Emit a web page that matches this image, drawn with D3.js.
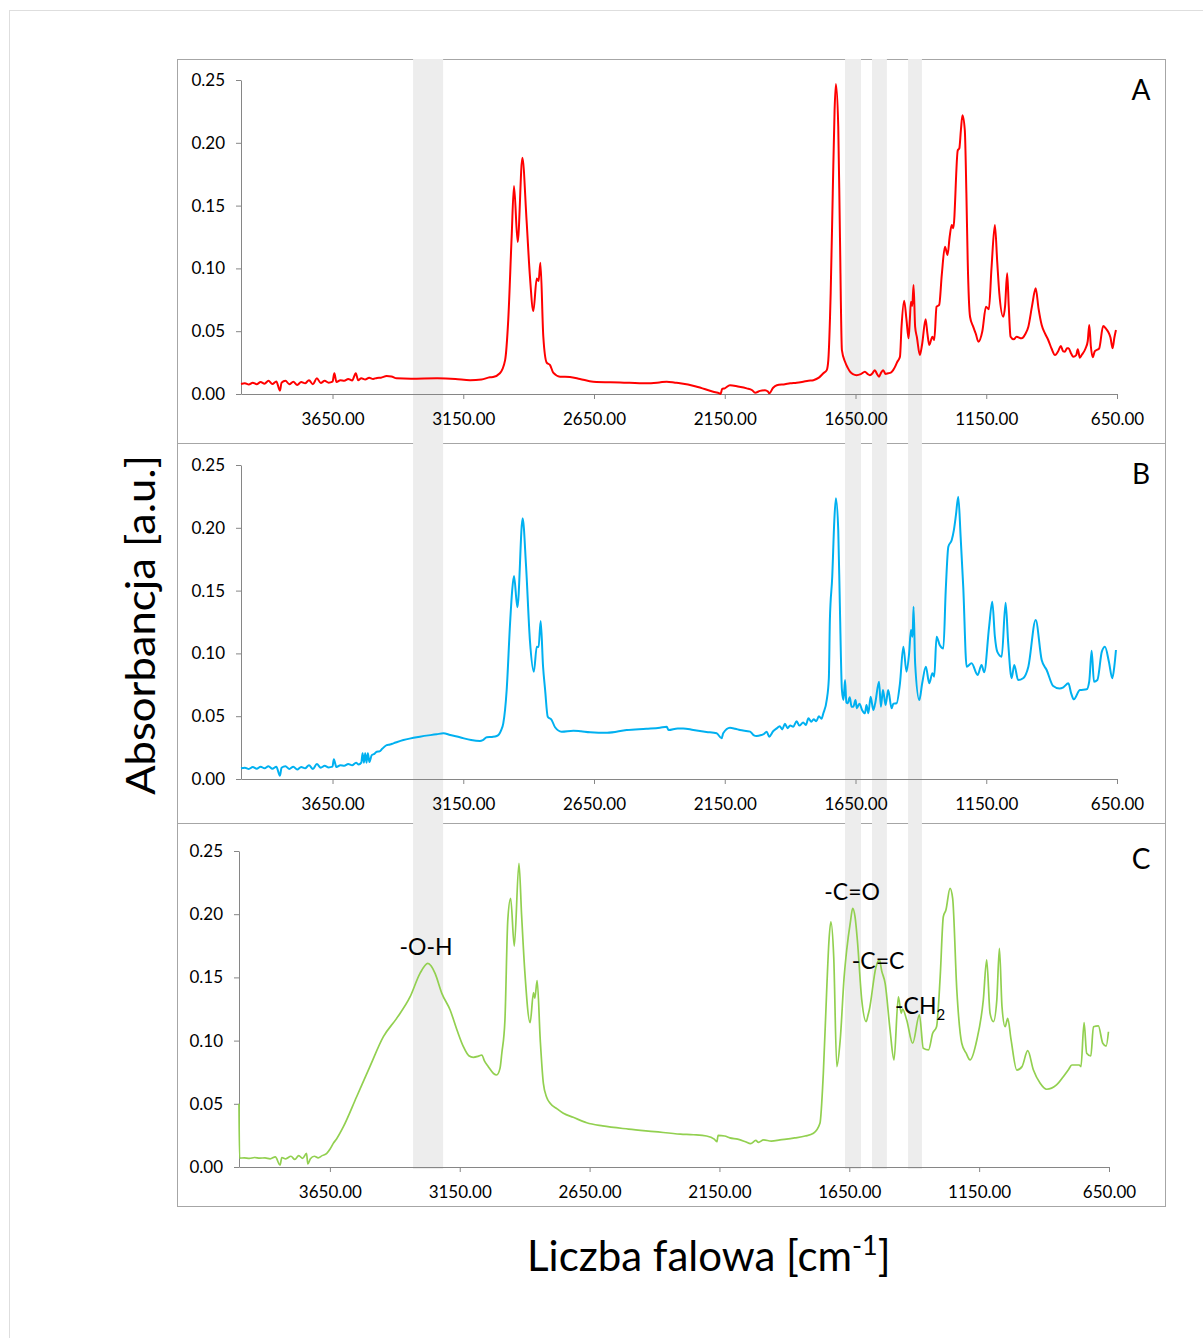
<!DOCTYPE html>
<html>
<head>
  <meta charset="utf-8">
  <title>Widma FTIR</title>
  <script src="https://d3js.org/d3.v7.min.js"></script>
  <style>
    body { margin: 0; background: #fff; }
    svg text { font-family: Lato, "Open Sans", sans-serif; fill: #000; }
    .axis path, .axis line { stroke: #868686; }
    .axis text { font-size: 17px; fill: #000; }
  </style>
</head>
<body>
<div id="chart"></div>
<script>

// wavenumber [cm-1], absorbance [a.u.]
var spectrumA = [
  [4000,0.008],[3985,0.0085],[3970,0.0075],[3955,0.009],[3940,0.0078],[3925,0.0095],[3910,0.0082],[3895,0.0105],
  [3880,0.008],[3865,0.010],[3851,0.0026],[3845,0.009],[3830,0.0105],[3815,0.0078],[3800,0.0098],[3785,0.0072],
  [3770,0.0095],[3755,0.0085],[3740,0.011],[3725,0.0078],[3710,0.0125],[3695,0.0088],[3680,0.0105],[3665,0.009],
  [3650,0.0098],[3643,0.0165],[3635,0.0095],[3620,0.011],[3605,0.0105],[3590,0.012],[3575,0.0108],[3561,0.0165],
  [3552,0.011],[3540,0.0125],[3525,0.0115],[3510,0.013],[3495,0.012],[3480,0.0128],[3465,0.013],[3443,0.0143],
  [3425,0.014],[3405,0.0125],[3350,0.0122],[3250,0.0125],[3180,0.012],[3124,0.011],[3080,0.0115],[3048,0.0133],
  [3036,0.0135],[3010,0.0165],[2990,0.027],[2978,0.059],[2965,0.125],[2956,0.1656],[2942,0.121],[2924,0.188],
  [2908,0.1385],[2895,0.0934],[2882,0.066],[2869,0.092],[2862,0.09],[2855,0.1045],[2844,0.046],[2831,0.025],
  [2818,0.023],[2806,0.017],[2780,0.0138],[2742,0.0135],[2704,0.012],[2653,0.0098],[2550,0.0092],[2449,0.0085],
  [2400,0.0092],[2372,0.0098],[2340,0.009],[2321,0.0085],[2260,0.006],[2194,0.0018],[2170,0.0005],[2166,0.0],
  [2160,0.004],[2150,0.0045],[2130,0.007],[2100,0.006],[2066,0.0045],[2045,0.003],[2034,0.001],[2015,0.0025],
  [1996,0.003],[1985,0.002],[1980,0.0005],[1965,0.005],[1951,0.007],[1920,0.0078],[1900,0.0085],[1875,0.009],
  [1850,0.0098],[1830,0.0105],[1811,0.011],[1790,0.013],[1773,0.0165],[1760,0.019],[1754,0.027],[1745,0.080],
  [1737,0.16],[1730,0.226],[1725,0.2468],[1716,0.213],[1710,0.133],[1702,0.035],[1690,0.0257],[1680,0.021],
  [1671,0.0178],[1660,0.0158],[1646,0.015],[1630,0.0158],[1614,0.0178],[1604,0.016],[1595,0.015],[1585,0.0165],
  [1576,0.019],[1568,0.016],[1560,0.0138],[1552,0.017],[1544,0.019],[1535,0.016],[1525,0.0165],[1515,0.017],
  [1506,0.019],[1498,0.022],[1490,0.0257],[1480,0.0297],[1474,0.0536],[1464,0.0743],[1455,0.059],[1447,0.0443],
  [1442,0.06],[1438,0.0735],[1433,0.07],[1428,0.0868],[1422,0.0536],[1415,0.045],[1404,0.031],[1395,0.04],
  [1382,0.0595],[1375,0.048],[1368,0.039],[1356,0.0456],[1349,0.043],[1340,0.0695],[1330,0.0709],[1320,0.095],
  [1308,0.1173],[1298,0.1107],[1290,0.125],[1282,0.1346],[1276,0.132],[1259,0.194],[1253,0.1956],[1247,0.21],
  [1241,0.222],[1232,0.21],[1226,0.16],[1221,0.1067],[1212,0.0615],[1200,0.0536],[1190,0.048],[1180,0.0416],
  [1165,0.05],[1151,0.0695],[1140,0.0674],[1130,0.1],[1117,0.1346],[1108,0.105],[1100,0.080],[1085,0.0615],
  [1078,0.07],[1070,0.0961],[1064,0.07],[1057,0.0456],[1045,0.0435],[1034,0.0456],[1015,0.0443],[1000,0.048],
  [989,0.0536],[975,0.07],[961,0.0841],[950,0.068],[938,0.0549],[925,0.048],[913,0.043],[900,0.036],
  [887,0.031],[875,0.034],[865,0.0382],[856,0.034],[849,0.0337],[841,0.0364],[835,0.0364],[825,0.032],
  [817,0.0297],[806,0.031],[800,0.0356],[792,0.0289],[785,0.031],[770,0.0364],[762,0.042],[756,0.0549],
  [750,0.038],[743,0.0292],[735,0.034],[728,0.035],[718,0.0364],[703,0.0541],[692,0.052],[684,0.0496],
  [675,0.045],[667,0.0364],[660,0.045],[654,0.051]
];

var spectrumB = [
  [4000,0.0085],[3985,0.009],[3970,0.008],[3955,0.0095],[3940,0.0082],[3925,0.0098],[3910,0.0085],[3895,0.0102],
  [3880,0.0082],[3865,0.0098],[3851,0.0026],[3845,0.009],[3830,0.0102],[3815,0.008],[3800,0.0098],[3785,0.0075],
  [3770,0.0095],[3755,0.0085],[3740,0.011],[3725,0.008],[3710,0.012],[3695,0.009],[3680,0.0105],[3665,0.0092],
  [3650,0.0098],[3645,0.0157],[3635,0.0095],[3620,0.011],[3605,0.0105],[3590,0.012],[3575,0.011],[3560,0.013],
  [3550,0.0115],[3540,0.013],[3535,0.0205],[3530,0.013],[3525,0.0205],[3520,0.013],[3515,0.0205],[3509,0.0135],
  [3500,0.019],[3490,0.02],[3481,0.0217],[3470,0.022],[3460,0.024],[3443,0.027],[3430,0.0275],[3417,0.0284],
  [3379,0.031],[3316,0.0337],[3252,0.0356],[3226,0.0364],[3200,0.035],[3163,0.0332],[3120,0.031],[3086,0.0303],
  [3075,0.031],[3060,0.0332],[3040,0.0335],[3022,0.0342],[3005,0.039],[2997,0.0443],[2984,0.0709],[2971,0.124],
  [2963,0.15],[2956,0.1616],[2943,0.1367],[2923,0.2076],[2910,0.17],[2895,0.11],[2880,0.0854],[2869,0.1053],
  [2862,0.105],[2854,0.1258],[2845,0.09],[2837,0.0709],[2827,0.0496],[2812,0.047],[2799,0.0412],[2774,0.0377],
  [2729,0.0385],[2700,0.038],[2665,0.0372],[2600,0.0368],[2525,0.039],[2450,0.04],[2398,0.0408],[2372,0.0416],
  [2365,0.039],[2330,0.0403],[2309,0.0403],[2270,0.039],[2220,0.0375],[2181,0.0364],[2162,0.0324],[2156,0.0364],
  [2130,0.0408],[2110,0.04],[2092,0.039],[2053,0.0377],[2040,0.035],[2028,0.0342],[2010,0.035],[2000,0.0358],
  [1990,0.0377],[1980,0.0337],[1965,0.038],[1951,0.0403],[1940,0.042],[1930,0.0395],[1920,0.044],[1910,0.0405],
  [1900,0.0425],[1888,0.0416],[1875,0.046],[1865,0.0425],[1850,0.045],[1840,0.043],[1830,0.0483],[1819,0.0456],
  [1810,0.0475],[1800,0.046],[1790,0.05],[1780,0.048],[1773,0.0523],[1760,0.0629],[1752,0.08],[1748,0.1266],
  [1739,0.161],[1731,0.206],[1725,0.2235],[1716,0.198],[1710,0.1399],[1702,0.0709],[1696,0.0629],[1690,0.0788],
  [1685,0.061],[1680,0.0603],[1672,0.065],[1665,0.0576],[1658,0.0576],[1650,0.0629],[1645,0.0563],[1635,0.06],
  [1625,0.055],[1614,0.0523],[1608,0.0589],[1601,0.0523],[1592,0.0655],[1582,0.0549],[1575,0.06],[1560,0.0775],
  [1553,0.0576],[1545,0.0709],[1535,0.0589],[1525,0.0709],[1512,0.0563],[1505,0.06],[1493,0.0603],[1480,0.0762],
  [1467,0.1053],[1455,0.0854],[1445,0.1],[1438,0.1186],[1432,0.1133],[1428,0.1372],[1422,0.0921],[1406,0.0629],
  [1395,0.0762],[1381,0.0894],[1368,0.0762],[1356,0.0842],[1349,0.0815],[1340,0.1133],[1328,0.1067],[1314,0.104],
  [1305,0.15],[1295,0.185],[1282,0.1903],[1274,0.198],[1266,0.21],[1257,0.2248],[1248,0.193],[1238,0.153],
  [1225,0.0894],[1206,0.0921],[1183,0.0828],[1168,0.0908],[1158,0.085],[1139,0.1213],[1127,0.1412],[1117,0.1133],
  [1108,0.1014],[1091,0.0974],[1076,0.1403],[1066,0.108],[1053,0.0802],[1043,0.0908],[1028,0.0788],[1009,0.0802],
  [989,0.0894],[961,0.1266],[938,0.0947],[919,0.0868],[894,0.074],[870,0.072],[855,0.073],[836,0.0762],
  [825,0.068],[815,0.0634],[792,0.0709],[766,0.0714],[756,0.078],[747,0.1022],[738,0.0775],[725,0.0788],
  [708,0.1014],[696,0.1053],[681,0.0934],[668,0.0802],[660,0.09],[654,0.1027]
];

var spectrumC = [
  [4000,0.050],[3998,0.007],[3980,0.0072],[3960,0.0068],[3940,0.0075],[3920,0.007],[3900,0.0072],[3880,0.0065],
  [3860,0.008],[3842,0.0016],[3835,0.0075],[3820,0.0065],[3800,0.0085],[3785,0.006],[3770,0.009],[3755,0.0068],
  [3740,0.0108],[3735,0.0024],[3725,0.0065],[3710,0.0085],[3695,0.0072],[3680,0.009],[3662,0.0108],[3650,0.014],
  [3637,0.0187],[3625,0.022],[3598,0.0319],[3547,0.0556],[3496,0.0794],[3444,0.1031],[3393,0.1176],[3341,0.1347],
  [3303,0.1532],[3273,0.1611],[3260,0.159],[3245,0.1532],[3219,0.1374],[3187,0.1242],[3160,0.108],[3136,0.0952],
  [3115,0.088],[3098,0.0868],[3080,0.0875],[3065,0.0886],[3055,0.084],[3040,0.0794],[3020,0.074],[3008,0.0728],
  [2995,0.078],[2988,0.09],[2976,0.1163],[2965,0.1954],[2954,0.2126],[2940,0.1748],[2922,0.2403],[2912,0.2],
  [2899,0.1532],[2879,0.1142],[2866,0.1379],[2861,0.1335],[2852,0.1474],[2840,0.1005],[2828,0.0662],[2815,0.055],
  [2802,0.0504],[2775,0.046],[2751,0.0425],[2713,0.0393],[2661,0.035],[2600,0.0325],[2500,0.03],[2400,0.028],
  [2300,0.026],[2250,0.0255],[2200,0.0245],[2170,0.022],[2160,0.02],[2155,0.025],[2130,0.0245],[2110,0.023],
  [2080,0.022],[2050,0.02],[2030,0.0185],[2010,0.021],[2000,0.0195],[1980,0.0215],[1950,0.0205],[1917,0.0214],
  [1860,0.023],[1820,0.0245],[1788,0.0267],[1763,0.0346],[1750,0.0741],[1737,0.14],[1728,0.18],[1721,0.194],
  [1710,0.1664],[1698,0.0794],[1685,0.1005],[1670,0.15],[1660,0.1717],[1645,0.195],[1637,0.2047],[1628,0.198],
  [1619,0.1796],[1602,0.1321],[1585,0.115],[1578,0.12],[1573,0.1242],[1547,0.1585],[1534,0.1638],[1525,0.155],
  [1512,0.1453],[1493,0.1084],[1478,0.0847],[1461,0.1347],[1450,0.1216],[1445,0.125],[1429,0.1163],[1406,0.0979],
  [1380,0.1203],[1365,0.0939],[1345,0.0926],[1329,0.1058],[1314,0.111],[1300,0.1506],[1288,0.198],[1278,0.2033],
  [1262,0.2205],[1252,0.2126],[1236,0.14],[1217,0.0979],[1200,0.09],[1185,0.0847],[1159,0.1005],[1134,0.1321],
  [1121,0.1638],[1108,0.1216],[1095,0.115],[1082,0.1321],[1072,0.173],[1062,0.1268],[1050,0.111],[1040,0.1176],
  [1027,0.1005],[1005,0.0767],[985,0.0794],[963,0.092],[941,0.0767],[915,0.0662],[890,0.0615],[852,0.0649],
  [826,0.0714],[807,0.0767],[793,0.0807],[765,0.0807],[758,0.0794],[746,0.1142],[736,0.09],[720,0.0878],
  [710,0.111],[691,0.1116],[674,0.0979],[661,0.0957],[652,0.107]
];

var seriesColors = ['#ff0000', '#00b0f0', '#92d050'];
var panelLetters = ['A', 'B', 'C'];
var xTicks = [3650, 3150, 2650, 2150, 1650, 1150, 650];
var yTicks = [0, 0.05, 0.10, 0.15, 0.20, 0.25];
var xDomain = [4000, 650];
var yDomain = [0, 0.25];

// highlighted bands [from, to] in cm-1
var bands = [[3342, 3227], [1690, 1629], [1587, 1530], [1449, 1396]];

// labels for panel C: [text, wavenumber, absorbance]
var annotations = [
  ['-O-H', 3280, 0.168],
  ['-C=O', 1639, 0.211],
  ['-C=C', 1539, 0.157]
];
var ch2Label = ['-CH', '2', 1474, 0.121];

// layout
var W = 1203, H = 1338;
var panels = [
  {box: [177, 59, 1165, 443], plot: {left: 241, right: 1117, top: 80, bottom: 394}, letterY: 89},
  {box: [177, 443, 1165, 823], plot: {left: 241, right: 1117, top: 465, bottom: 779}, letterY: 473},
  {box: [177, 823, 1165, 1206], plot: {left: 239, right: 1109, top: 851, bottom: 1167}, letterY: 858}
];
var spectra = [spectrumA, spectrumB, spectrumC];

var svg = d3.select('#chart').append('svg')
  .attr('width', W)
  .attr('height', H);

// outer frame
svg.append('rect')
  .attr('x', 9.5).attr('y', 10.5)
  .attr('width', 1300).attr('height', 1400)
  .attr('fill', 'none')
  .attr('stroke', '#dedede');

// panel boxes
panels.forEach(function(p) {
  svg.append('rect')
    .attr('x', p.box[0] + 0.5).attr('y', p.box[1] + 0.5)
    .attr('width', p.box[2] - p.box[0]).attr('height', p.box[3] - p.box[1])
    .attr('fill', 'none')
    .attr('stroke', '#a6a6a6');
});

// scales
panels.forEach(function(p) {
  p.x = d3.scaleLinear().domain(xDomain).range([p.plot.left, p.plot.right]);
  p.y = d3.scaleLinear().domain(yDomain).range([p.plot.bottom, p.plot.top]);
});

// grey bands across all panels
var bx = panels[0].x;
svg.append('g').selectAll('rect')
  .data(bands)
  .enter().append('rect')
    .attr('x', function(d) { return bx(d[0]); })
    .attr('width', function(d) { return bx(d[1]) - bx(d[0]); })
    .attr('y', 59)
    .attr('height', 1169 - 59)
    .attr('fill', '#ededed');

panels.forEach(function(p, i) {

  var yAxis = d3.axisLeft(p.y)
    .tickValues(yTicks)
    .tickFormat(d3.format('.2f'))
    .tickSize(5)
    .tickSizeOuter(0)
    .tickPadding(11);

  var xAxis = d3.axisBottom(p.x)
    .tickValues(xTicks)
    .tickFormat(d3.format('.2f'))
    .tickSize(5)
    .tickSizeOuter(0)
    .tickPadding(14);

  svg.append('g')
    .attr('class', 'axis')
    .attr('transform', 'translate(' + p.plot.left + ',0)')
    .call(yAxis);

  svg.append('g')
    .attr('class', 'axis')
    .attr('transform', 'translate(0,' + p.plot.bottom + ')')
    .call(xAxis);

  var line = d3.line()
    .x(function(d) { return p.x(d[0]); })
    .y(function(d) { return p.y(d[1]); })
    .curve(d3.curveMonotoneX);

  svg.append('path')
    .attr('d', line(spectra[i]))
    .attr('fill', 'none')
    .attr('stroke', seriesColors[i])
    .attr('stroke-width', i == 2 ? 1.7 : 2)
    .attr('stroke-linejoin', 'round');

  svg.append('text')
    .attr('x', 1141)
    .attr('y', p.letterY)
    .attr('text-anchor', 'middle')
    .attr('dominant-baseline', 'central')
    .style('font-size', '28px')
    .text(panelLetters[i]);
});

// annotations in panel C
var pc = panels[2];
svg.append('g').selectAll('text')
  .data(annotations)
  .enter().append('text')
    .attr('x', function(d) { return pc.x(d[1]); })
    .attr('y', function(d) { return pc.y(d[2]); })
    .attr('text-anchor', 'middle')
    .style('font-size', '23px')
    .text(function(d) { return d[0]; });

var ch2 = svg.append('text')
  .attr('x', pc.x(ch2Label[2]))
  .attr('y', pc.y(ch2Label[3]))
  .style('font-size', '23px')
  .text(ch2Label[0]);
ch2.append('tspan')
  .attr('dy', 6)
  .style('font-size', '15px')
  .text(ch2Label[1]);

// axis titles
svg.append('text')
  .attr('transform', 'translate(155,625) rotate(-90)')
  .attr('text-anchor', 'middle')
  .attr('textLength', 340)
  .attr('lengthAdjust', 'spacingAndGlyphs')
  .style('font-size', '40px')
  .text('Absorbancja [a.u.]');

var xt = svg.append('text')
  .attr('x', 527)
  .attr('y', 1271)
  .style('font-size', '42px')
  .text('Liczba falowa [cm');
xt.append('tspan')
  .attr('dy', -16)
  .style('font-size', '27px')
  .text('-1');
xt.append('tspan')
  .attr('dy', 16)
  .text(']');

</script>
</body>
</html>
